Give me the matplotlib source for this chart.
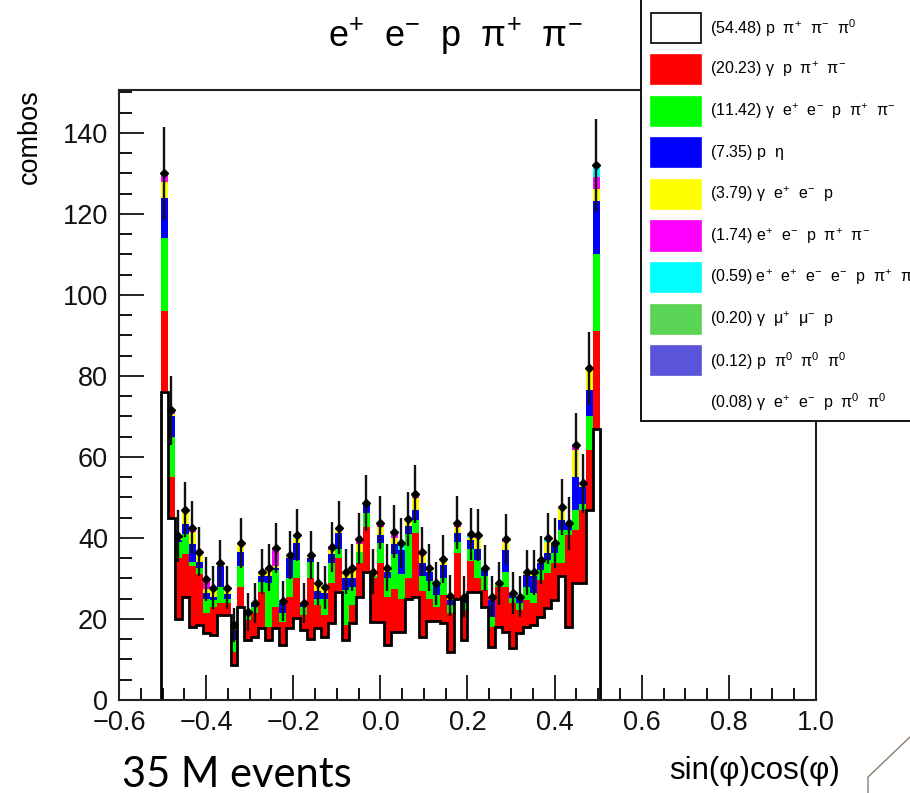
import numpy as np
import matplotlib
matplotlib.use('Agg')
import matplotlib.pyplot as plt
from matplotlib.patches import Rectangle
from matplotlib.lines import Line2D

plt.rcParams['font.family'] = ['Liberation Sans', 'DejaVu Sans']
plt.rcParams['mathtext.default'] = 'regular'

# 100 bins over [-0.6, 1.0]; only bins 6..68 are filled (63 bins)
bin_lo, bin_hi, nfilled = -0.504, 0.504, 63

# stacked counts per channel, one value per filled bin
white = [76, 45, 20, 25.5, 18, 18.5, 16.5, 16, 21, 21,
         8.6, 23, 14.8, 15.6, 17.7, 14.8, 17.7, 13.6, 17.7, 20.2,
         17.3, 15, 17.7, 15.6, 18.9, 26.7, 14.8, 18.9, 25.5, 31.7,
         19.3, 19.3, 13.6, 16.7, 16.9, 25, 25.5, 15.5, 19.5, 19.5,
         19, 11.9, 25, 14.8, 26.7, 26.7, 23, 13.2, 18.1, 16.9,
         12.8, 16.5, 18.1, 18.5, 20.6, 22.6, 24.7, 30.5, 18.1, 28.8,
         28.8, 46.9, 66.9]
red = [20, 10, 15, 10.5, 15, 12.5, 5, 7, 3, 3,
       3.3, 5, 5, 5.8, 9, 3.3, 5.3, 5.7, 7.8, 9.8,
       3.7, 15, 5.8, 5.4, 9.9, 8.3, 3.7, 4.6, 8.3, 11.1,
       10.7, 14.5, 11.9, 10.8, 8.1, 5, 15.7, 11.5, 5.5, 3.5,
       7, 9.6, 11.2, 7.4, 7.5, 3.3, 4.2, 4.9, 9.9, 11.1,
       11.1, 5.7, 6.6, 5.4, 9, 8.7, 9.1, 3.3, 22.6, 13.2,
       18.1, 14.8, 24.1]
green = [18, 10, 4, 5, 1, 1.5, 3.5, 1.7, 4, 1,
         2.9, 5, 1.2, 1.6, 2.5, 10.7, 9, 2.1, 4.5, 4.6,
         2, 4, 1.5, 4, 5, 2.4, 8.7, 4.5, 2.8, 3.3,
         0.5, 4.9, 4.5, 8.5, 6, 11, 3.2, 3.5, 4.4, 3,
         4, 2, 2.9, 1.7, 3.2, 4.6, 3.3, 2.5, 0.4, 3.7,
         1.2, 1.7, 3.3, 2.4, 2.5, 3.3, 2.4, 8.2, 1.3, 4.9,
         1.6, 8.3, 19]
blue = [10, 5, 0.5, 2.5, 4.5, 1.5, 1.5, 0.8, 5, 1.2,
        2.5, 3.6, 0.8, 0.9, 1.3, 1.7, 0.5, 2.5, 5, 4.1,
        0.9, 1, 1.8, 1.5, 2.2, 3.8, 2.8, 2, 0, 2.5,
        0, 2.1, 1.7, 2.5, 6, 2, 2.5, 3.3, 2.1, 2.4,
        3.3, 1.3, 2.1, 1.6, 2.1, 2.8, 2, 4.1, 0, 5.3,
        1.4, 1.6, 2.9, 4.2, 1.7, 1.6, 2.5, 2.4, 1.6, 8.2,
        4, 6.5, 13.3]
yellow = [4, 0.5, 1, 3.5, 3, 2, 1, 2.2, 0.7, 1.5,
          1.2, 2.1, 0, 0, 1.2, 1.6, 0.5, 0.5, 0.8, 1.2,
          0, 0.8, 2, 1.3, 1, 1.3, 1.2, 2, 1.9, 0,
          1.2, 2, 1, 1.5, 0, 1.7, 2.9, 2, 1.2, 0.4,
          1.5, 0.4, 1.6, 0, 0.6, 2.5, 0, 0, 0.4, 2.1,
          0, 0, 0.6, 1, 0.8, 2.9, 0, 3.3, 0, 6.6,
          1, 5.4, 2.9]
magenta = [2, 1, 0, 0, 0.5, 0.6, 2.4, 0, 0, 0,
           0, 0, 0, 0, 0, 0.6, 4.6, 0, 0, 0,
           0, 0, 0, 0, 0.7, 0, 0.5, 0.7, 1.3, 0,
           0, 1, 0, 1.6, 0, 0, 1, 0.8, 0, 0,
           0, 0.5, 1, 0, 0, 0.8, 0, 0.8, 0, 0.6,
           0, 0, 0, 0, 0, 0, 0, 0, 0, 1.2,
           0, 0, 2.9]
cyan = [0, 0, 0, 0, 0.5, 0, 0, 0, 0, 0,
        0, 0, 0, 0, 0, 0, 0, 0, 0, 0.8,
        0, 0, 0, 0, 0, 0, 0, 0, 0, 0,
        0, 0, 0, 0, 1.7, 0, 0, 0, 0, 0,
        0, 0, 0, 0, 0.6, 0, 0, 0, 0, 0,
        0, 0, 0, 0, 0, 0.8, 0, 0, 0, 0,
        0, 0, 2.9]
mumu = [0, 0, 0, 0, 0, 0, 0, 0, 0, 0,
        0, 0, 0, 0, 0, 0, 0, 0, 0, 0,
        0, 0, 0, 0, 0, 0, 0, 0, 0, 0,
        0, 0, 0, 0, 0, 0, 0, 0, 0, 0,
        0, 0, 0, 0, 0.3, 0, 0, 0, 0, 0,
        0, 0, 0, 0, 0, 0, 0, 0, 0, 0,
        0, 0, 0]
pi0s = [0] * nfilled
last = [0] * nfilled

labels = [r'(54.48) p  $\pi^{+}$  $\pi^{-}$  $\pi^{0}$',
          r'(20.23) $\gamma$  p  $\pi^{+}$  $\pi^{-}$',
          r'(11.42) $\gamma$  $e^{+}$  $e^{-}$  p  $\pi^{+}$  $\pi^{-}$',
          r'(7.35) p  $\eta$',
          r'(3.79) $\gamma$  $e^{+}$  $e^{-}$  p',
          r'(1.74) $e^{+}$  $e^{-}$  p  $\pi^{+}$  $\pi^{-}$',
          r'(0.59) $e^{+}$  $e^{+}$  $e^{-}$  $e^{-}$  p  $\pi^{+}$  $\pi^{-}$',
          r'(0.20) $\gamma$  $\mu^{+}$  $\mu^{-}$  p',
          r'(0.12) p  $\pi^{0}$  $\pi^{0}$  $\pi^{0}$',
          r'(0.08) $\gamma$  $e^{+}$  $e^{-}$  p  $\pi^{0}$  $\pi^{0}$']
colors = ['white', '#ff0000', '#00ff00', '#0000ff', '#ffff00',
          '#ff00ff', '#00ffff', '#59d454', '#5954d9', 'none']

layers = np.array([white, red, green, blue, yellow, magenta, cyan, mumu, pi0s, last], dtype=float)
edges = np.linspace(bin_lo, bin_hi, nfilled + 1)
centers = 0.5 * (edges[1:] + edges[:-1])
cum = np.cumsum(layers, axis=0)
total = cum[-1]

W, H = 910, 793
fig = plt.figure(figsize=(W / 100, H / 100), dpi=100)
ax = fig.add_axes([119 / W, 1 - 700 / H, (816 - 119) / W, (700 - 90) / H])

base = np.zeros(nfilled)
for i in range(len(layers)):
    if colors[i] != 'none':
        ax.stairs(cum[i], edges, baseline=base, fill=True, color=colors[i], lw=0)
    base = cum[i]
ax.stairs(cum[0], edges, baseline=0, color='black', lw=2.0)

ax.errorbar(centers, total, yerr=np.sqrt(total), fmt='D', ms=4, color='black',
            ecolor='#111111', elinewidth=1.7, capsize=0, zorder=5)

ax.set_xlim(-0.6, 1.0)
ax.set_ylim(0, 150.6)
ax.set_xticks(np.arange(-0.6, 1.01, 0.2))
ax.set_xticks(np.arange(-0.6, 1.01, 0.05), minor=True)
ax.set_yticks(np.arange(0, 141, 20))
ax.set_yticks(np.arange(0, 151, 5), minor=True)
ax.xaxis.set_major_formatter(matplotlib.ticker.FuncFormatter(
    lambda v, p: ('%.1f' % v).replace('-', '\u2212')))
ax.tick_params(direction='in', labelsize=19.5, length=18, width=1.3, colors='#111111')
ax.tick_params(which='minor', direction='in', length=9, width=1.3)
ax.tick_params(axis='x', pad=7)
ax.tick_params(axis='y', pad=8)
for s in ax.spines.values():
    s.set_linewidth(1.5)
    s.set_color('#222222')

fig.text(455 / W, 1 - 36 / H, r'$e^{+}$  $e^{-}$  p  $\pi^{+}$  $\pi^{-}$',
         ha='center', va='center', fontsize=26)
fig.text(30 / W, 1 - 137 / H, 'combos', rotation=90, ha='center', va='center', fontsize=19.5)
fig.text(840 / W, 1 - 771 / H, 'sin(φ)cos(φ)', ha='right', va='center', fontsize=22.5)
fig.text(122 / W, 1 - 775 / H, '35 M events', ha='left', va='center', fontsize=30,
         family=['Lato', 'DejaVu Sans'])

# legend box (runs off the right edge)
fig.patches.append(Rectangle((641 / W, 1 - 421 / H), 300 / W, 430 / H,
                             transform=fig.transFigure, facecolor='white',
                             edgecolor='black', lw=1.3, zorder=10))
for i, lab in enumerate(labels):
    yc = 28 + 41.6 * i
    if colors[i] != 'none':
        ec = 'black' if i == 0 else colors[i]
        fig.patches.append(Rectangle((651 / W, 1 - (yc + 14.5) / H), 50 / W, 29 / H,
                                     transform=fig.transFigure, facecolor=colors[i],
                                     edgecolor=ec, lw=1.2, zorder=11))
    fig.text(710 / W, 1 - yc / H, lab, ha='left', va='center', fontsize=11.5, zorder=12)

# slide decoration in the corner
fig.lines.append(Line2D([868 / W, 868 / W, 910 / W], [0, 1 - 777 / H, 1 - 737 / H],
                        transform=fig.transFigure, color='#8c7b6b', lw=1.0))

fig.savefig('out.png', dpi=100)
